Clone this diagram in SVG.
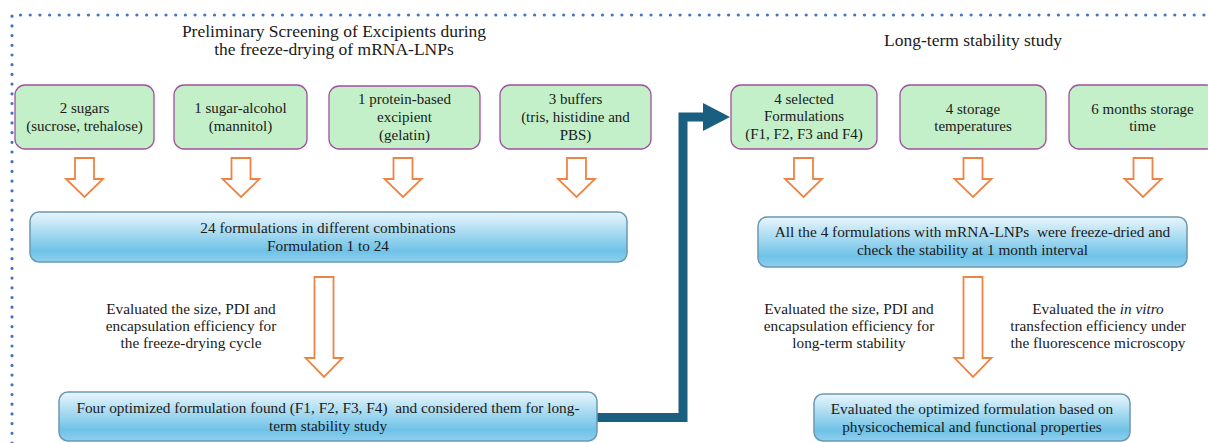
<svg xmlns="http://www.w3.org/2000/svg" xmlns:xlink="http://www.w3.org/1999/xlink" width="1208" height="443" viewBox="0 0 1208 443" font-family="'Liberation Serif', 'DejaVu Serif', serif">
<style>
  text { font-family: 'Liberation Serif', 'DejaVu Serif', serif; fill: #1a1a1a; }
  .title { font-size: 17.5px; text-anchor: middle; }
  .gtxt { font-size: 15px; text-anchor: middle; }
  .btxt { font-size: 15.3px; text-anchor: middle; }
  .etxt { font-size: 15.3px; text-anchor: middle; }
  .green { fill: #c3efc9; stroke: #a24f9e; stroke-width: 1.3; }
  .blue { fill: url(#bg); stroke: #6c98b2; stroke-width: 1.5; }
  .oarrow { fill: #ffffff; stroke: #ef8344; stroke-width: 1.8; stroke-linejoin: miter; }
</style>
<defs>
  <linearGradient id="bg" x1="0" y1="0" x2="0" y2="1">
    <stop offset="0" stop-color="#e9f6fc"/>
    <stop offset="0.78" stop-color="#6ec2e7"/>
    <stop offset="1" stop-color="#8fd0ee"/>
  </linearGradient>
  <path id="sa" d="M-9.5,158 H9.5 V179 H18.5 L0,197 L-18.5,179 H-9.5 Z"/>
  <path id="la" d="M-9.5,277 H9.5 V358 H18.5 L0,377 L-18.5,358 H-9.5 Z"/>
</defs>
<rect width="1208" height="443" fill="#ffffff"/>

<!-- dotted frame -->
<path d="M12,443 V15 H1208" fill="none" stroke="#4472c4" stroke-width="3.2" stroke-linecap="round" stroke-dasharray="0 9.7"/>

<!-- section titles -->
<text class="title" x="334" y="37">Preliminary Screening of Excipients during</text>
<text class="title" x="334" y="55">the freeze-drying of mRNA-LNPs</text>
<text class="title" x="973" y="46">Long-term stability study</text>

<!-- connectors -->
<g id="connectors">
  <g class="oarrow">
    <use xlink:href="#sa" x="84.5"/>
    <use xlink:href="#sa" x="241"/>
    <use xlink:href="#sa" x="403"/>
    <use xlink:href="#sa" x="576.5"/>
    <use xlink:href="#sa" x="803.5"/>
    <use xlink:href="#sa" x="973"/>
    <use xlink:href="#sa" x="1143"/>
    <use xlink:href="#la" x="324"/>
    <use xlink:href="#la" x="973"/>
  </g>
  <path d="M597,417.5 H683 V117 H706" fill="none" stroke="#1a5f80" stroke-width="9" stroke-linejoin="miter"/>
  <polygon points="703,103 730,117 703,131" fill="#1a5f80"/>
</g>

<!-- green input nodes -->
<g id="n-sugars">
  <rect class="green" x="15" y="85" width="139" height="64" rx="10"/>
  <text class="gtxt" x="84.5" y="113">2 sugars</text>
  <text class="gtxt" x="84.5" y="131">(sucrose, trehalose)</text>
</g>
<g id="n-sugaralcohol">
  <rect class="green" x="174" y="85" width="133" height="64" rx="10"/>
  <text class="gtxt" x="240.5" y="113">1 sugar-alcohol</text>
  <text class="gtxt" x="240.5" y="131">(mannitol)</text>
</g>
<g id="n-protein">
  <rect class="green" x="329" y="86" width="151" height="63" rx="10"/>
  <text class="gtxt" x="404.5" y="104">1 protein-based</text>
  <text class="gtxt" x="404.5" y="122">excipient</text>
  <text class="gtxt" x="404.5" y="140">(gelatin)</text>
</g>
<g id="n-buffers">
  <rect class="green" x="500" y="85" width="151" height="64" rx="10"/>
  <text class="gtxt" x="575.5" y="104">3 buffers</text>
  <text class="gtxt" x="575.5" y="122">(tris, histidine and</text>
  <text class="gtxt" x="575.5" y="140">PBS)</text>
</g>
<g id="n-selected">
  <rect class="green" x="731" y="85" width="146" height="64" rx="10"/>
  <text class="gtxt" x="804" y="104">4 selected</text>
  <text class="gtxt" x="804" y="121">Formulations</text>
  <text class="gtxt" x="804" y="139">(F1, F2, F3 and F4)</text>
</g>
<g id="n-temps">
  <rect class="green" x="900" y="85" width="146" height="64" rx="10"/>
  <text class="gtxt" x="973" y="114">4 storage</text>
  <text class="gtxt" x="973" y="131">temperatures</text>
</g>
<g id="n-time">
  <rect class="green" x="1069" y="85" width="147" height="64" rx="10"/>
  <text class="gtxt" x="1142.5" y="114">6 months storage</text>
  <text class="gtxt" x="1142.5" y="131">time</text>
</g>

<!-- blue process nodes -->
<g id="n-24form">
  <rect class="blue" x="30" y="212" width="597" height="50" rx="9"/>
  <text class="btxt" x="328" y="233">24 formulations in different combinations</text>
  <text class="btxt" x="328" y="251">Formulation 1 to 24</text>
</g>
<g id="n-four">
  <rect class="blue" x="59" y="392" width="538" height="49" rx="9"/>
  <text class="btxt" x="328" y="413" xml:space="preserve">Four optimized formulation found (F1, F2, F3, F4)  and considered them for long-</text>
  <text class="btxt" x="328" y="431">term stability study</text>
</g>
<g id="n-all4">
  <rect class="blue" x="758" y="217" width="429" height="50" rx="9"/>
  <text class="btxt" x="972.5" y="237" xml:space="preserve">All the 4 formulations with mRNA-LNPs  were freeze-dried and</text>
  <text class="btxt" x="972.5" y="255">check the stability at 1 month interval</text>
</g>
<g id="n-final">
  <rect class="blue" x="814" y="394" width="316" height="47" rx="9"/>
  <text class="btxt" x="972" y="414">Evaluated the optimized formulation based on</text>
  <text class="btxt" x="972" y="432">physicochemical and functional properties</text>
</g>

<!-- annotation texts -->
<g id="t-eval-left">
  <text class="etxt" x="191" y="314">Evaluated the size, PDI and</text>
  <text class="etxt" x="191" y="331">encapsulation efficiency for</text>
  <text class="etxt" x="191" y="348">the freeze-drying cycle</text>
</g>
<g id="t-eval-mid">
  <text class="etxt" x="849" y="314">Evaluated the size, PDI and</text>
  <text class="etxt" x="849" y="331">encapsulation efficiency for</text>
  <text class="etxt" x="849" y="348">long-term stability</text>
</g>
<g id="t-eval-right">
  <text class="etxt" x="1098" y="314">Evaluated the <tspan font-style="italic">in vitro</tspan></text>
  <text class="etxt" x="1098" y="331">transfection efficiency under</text>
  <text class="etxt" x="1098" y="348">the fluorescence microscopy</text>
</g>
</svg>
